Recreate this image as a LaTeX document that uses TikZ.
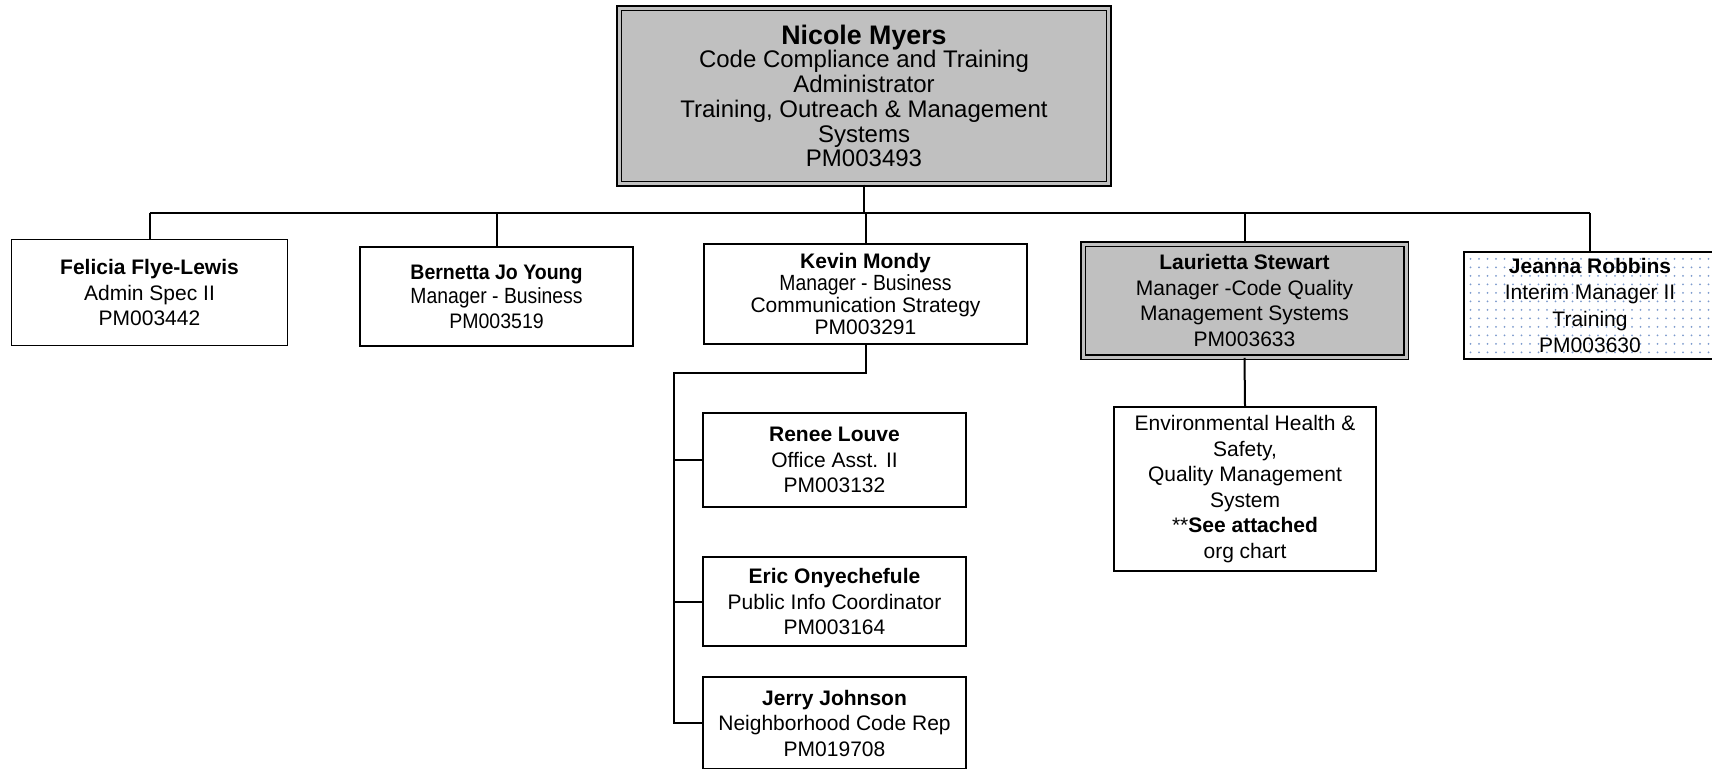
\documentclass[tikz,border=0pt]{standalone}
\usepackage{fontspec}
\setmainfont{Liberation Sans}
\newfontfamily\narrowf[FakeStretch=0.88]{Liberation Sans}
\newfontfamily\semif[FakeStretch=0.93]{Liberation Sans}
\usetikzlibrary{patterns.meta}
\definecolor{boxgray}{RGB}{192,192,192}
\definecolor{dotblue}{RGB}{125,155,205}
\tikzdeclarepattern{
  name=jdots, type=uncolored,
  bounding box={(-4.25pt,-4.25pt) and (4.25pt,4.25pt)},
  tile size={(8.5pt,8.5pt)},
  code={\fill (0pt,0pt) circle (1pt);}
}
\tikzset{
  box/.style={draw=black, line width=2pt, inner sep=0pt, align=center,
    font=\fontsize{21}{25.5}\selectfont},
  dbox/.style={box, line width=1.6pt, double=boxgray, double distance=3pt, fill=boxgray},
  conn/.style={draw=black, line width=2pt},
}
\begin{document}
\begin{tikzpicture}[x=1pt, y=-1pt]
\fill[white] (0,0) rectangle (1712,768.8);
\useasboundingbox (0,0) rectangle (1712,768.8);

\node[dbox, minimum width=489.8pt, minimum height=175.8pt,
  font=\fontsize{24}{24.7}\selectfont] (top) at (864,96)
  {{\fontsize{26.8}{24.7}\selectfont\bfseries Nicole Myers}\\[-1.2pt]
   Code Compliance and Training\\ Administrator\\
   Training, Outreach \& Management\\ Systems\\ PM003493};

\node[box, line width=1.2pt, minimum width=276pt, minimum height=106pt] (fel) at (149.5,292.5)
  {\textbf{Felicia Flye-Lewis}\\ Admin Spec II\\ PM003442};

\node[box, minimum width=273pt, minimum height=99pt,
  font=\fontsize{21}{24.5}\selectfont] (ber) at (496.5,296.5)
  {{\semif\bfseries Bernetta Jo Young}\\ {\narrowf\fontsize{22}{24.5}\selectfont Manager - Business}\\ {\semif PM003519}};

\node[box, minimum width=323pt, minimum height=100pt,
  font=\fontsize{21}{22}\selectfont] (kev) at (865.5,294)
  {\textbf{Kevin Mondy}\\ {\narrowf\fontsize{22}{22}\selectfont Manager - Business}\\ Communication Strategy\\ PM003291};

\node[dbox, minimum width=323pt, minimum height=113pt] (lau) at (1244.5,300.5)
  {\textbf{Laurietta Stewart}\\ Manager -Code Quality\\ Management Systems\\ PM003633};

\node[box, pattern=jdots, pattern color=dotblue, minimum width=252pt, minimum height=107pt,
  font=\fontsize{21}{26.5}\selectfont] (jea) at (1590,305.5)
  {\textbf{Jeanna Robbins}\\ Interim Manager II\\ Training\\ PM003630};

\node[box, line width=1.6pt, minimum width=262pt, minimum height=164pt] (env) at (1245,489)
  {Environmental Health \&\\ Safety,\\ Quality Management\\ System\\
   **\textbf{See attached}\\ org chart};

\node[box, minimum width=263pt, minimum height=94pt] (ren) at (834.5,460)
  {\textbf{Renee Louve}\\ Office Asst. II\\ PM003132};
\node[box, minimum width=263pt, minimum height=89pt] (eri) at (834.5,601.5)
  {\textbf{Eric Onyechefule}\\ Public Info Coordinator\\ PM003164};
\node[box, minimum width=263pt, minimum height=92pt] (jer) at (834.5,723)
  {\textbf{Jerry Johnson}\\ Neighborhood Code Rep\\ PM019708};

\coordinate (bus) at (0,213);
\coordinate (spine) at (674,373);
\draw[conn] (top.south) -- (top.south |- bus);
\draw[conn] (fel.north |- bus) -- (jea.north |- bus);
\foreach \n in {fel,ber,kev,lau,jea} \draw[conn] (\n.north |- bus) -- (\n.north);
\draw[conn] (kev.south) |- (spine) -- (spine |- jer.west) -- (jer.west);
\draw[conn] (spine |- ren.west) -- (ren.west);
\draw[conn] (spine |- eri.west) -- (eri.west);
\draw[conn] (lau.south) -- (env.north);
\end{tikzpicture}
\end{document}
